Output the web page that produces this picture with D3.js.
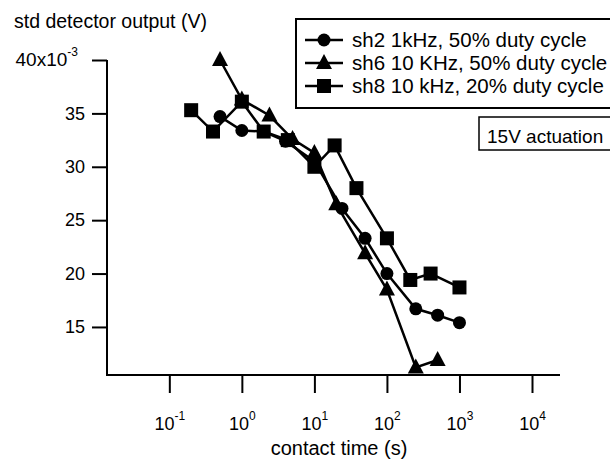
<!DOCTYPE html>
<html>
<head>
<meta charset="utf-8">
<script src="https://cdn.jsdelivr.net/npm/d3@7"></script>
<style>
  body { margin: 0; background: #fff; }
  svg { font-family: "Liberation Sans", Arial, sans-serif; }
</style>
</head>
<body>
<svg id="chart" width="610" height="463"></svg>
<script>
// contact time (s) and std detector output (x10^-3 V)
var sh2Time = [0.5, 1, 2, 4, 10, 24, 50, 100, 250, 500, 1000];
var sh2Std  = [34.7, 33.4, 33.3, 32.4, 30.5, 26.1, 23.3, 20.0, 16.7, 16.1, 15.4];

var sh6Time = [0.5, 1, 2.4, 5, 10, 20, 50, 100, 250, 500];
var sh6Std  = [40.0, 36.3, 34.8, 32.6, 31.3, 26.5, 21.9, 18.5, 11.2, 11.9];

var sh8Time = [0.2, 0.4, 1, 2, 4.3, 10, 19, 38, 100, 210, 400, 1000];
var sh8Std  = [35.3, 33.3, 36.1, 33.3, 32.5, 30.0, 32.0, 28.0, 23.3, 19.4, 20.0, 18.7];

var seriesNames = ["sh2 1kHz, 50% duty cycle", "sh6 10 KHz, 50% duty cycle", "sh8 10 kHz, 20% duty cycle"];
var markers = ["circle", "triangle", "square"];

var xTicks = [0.1, 1, 10, 100, 1000, 10000];
var xExps = ["-1", "0", "1", "2", "3", "4"];
var yTicks = [15, 20, 25, 30, 35, 40];

var series = [
  {name: seriesNames[0], marker: markers[0], pts: sh2Time.map(function(t, i){ return [t, sh2Std[i]]; })},
  {name: seriesNames[1], marker: markers[1], pts: sh6Time.map(function(t, i){ return [t, sh6Std[i]]; })},
  {name: seriesNames[2], marker: markers[2], pts: sh8Time.map(function(t, i){ return [t, sh8Std[i]]; })}
];

var svg = d3.select('#chart');

var x = d3.scaleLog().domain([Math.pow(10, -1.873), Math.pow(10, 4.386)]).range([106, 560]);
var y = d3.scaleLinear().domain([10.5, 40]).range([375, 60]);

function drawMarker(g, type) {
  if (type == "circle") {
    g.append('circle').attr('r', 6.5);
  } else if (type == "square") {
    g.append('rect').attr('x', -7).attr('y', -7).attr('width', 14).attr('height', 14);
  } else {
    g.append('path').attr('d', 'M0,-9L8,6L-8,6Z');
  }
}

// axes
var xAxis = svg.append('g').attr('class', 'x axis')
  .attr('transform', 'translate(0,375)')
  .call(d3.axisBottom(x).tickValues(xTicks).tickSize(18).tickFormat(''));
xAxis.select('.domain').attr('d', 'M106,0H560');

xAxis.selectAll('.tick').each(function(d, i) {
  var t = d3.select(this).append('text')
    .attr('y', 55).attr('x', 0)
    .attr('fill', '#000')
    .style('font-size', '18px')
    .attr('text-anchor', 'middle');
  t.append('tspan').text('10');
  t.append('tspan').attr('dy', -10).style('font-size', '12px').text(xExps[i]);
});

var yAxis = svg.append('g').attr('class', 'y axis')
  .attr('transform', 'translate(107,0)')
  .call(d3.axisLeft(y).tickValues(yTicks).tickSize(15).tickPadding(7)
    .tickFormat(function(d){ return d == 40 ? '' : d; }));
yAxis.select('.domain').attr('d', 'M0,60V375');
yAxis.selectAll('text').style('font-size', '18px').attr('fill', '#000');

var topLabel = yAxis.append('text')
  .attr('x', -29).attr('y', y(40)).attr('dy', '0.32em')
  .attr('text-anchor', 'end').attr('fill', '#000')
  .style('font-size', '19px');
topLabel.append('tspan').text('40x10');
topLabel.append('tspan').attr('dy', -10).style('font-size', '12px').text('-3');

svg.selectAll('.axis path, .axis line').attr('stroke', '#000').attr('stroke-width', 2);

svg.append('text').attr('x', 14).attr('y', 28).style('font-size', '19.5px')
  .text('std detector output (V)');
svg.append('text').attr('x', 339).attr('y', 455).attr('text-anchor', 'middle')
  .style('font-size', '20px').text('contact time (s)');

// data
var line = d3.line().x(function(d){ return x(d[0]); }).y(function(d){ return y(d[1]); });

series.forEach(function(s) {
  svg.append('path').datum(s.pts)
    .attr('d', line)
    .attr('fill', 'none').attr('stroke', '#000').attr('stroke-width', 2.5);
  svg.append('g').selectAll('g').data(s.pts).enter().append('g')
    .attr('transform', function(d){ return 'translate(' + x(d[0]) + ',' + y(d[1]) + ')'; })
    .each(function(){ drawMarker(d3.select(this), s.marker); });
});

// legend
var lg = svg.append('g');
lg.append('rect').attr('x', 296).attr('y', 19).attr('width', 330).attr('height', 89)
  .attr('fill', '#fff').attr('stroke', '#000').attr('stroke-width', 2);
series.forEach(function(s, i) {
  var row = lg.append('g').attr('transform', 'translate(0,' + (40 + i * 23) + ')');
  row.append('line').attr('x1', 305).attr('x2', 343).attr('stroke', '#000').attr('stroke-width', 2.5);
  var m = row.append('g').attr('transform', 'translate(324,0)');
  drawMarker(m, s.marker);
  row.append('text').attr('x', 352).attr('dy', '0.35em').style('font-size', '20.5px').text(s.name);
});

svg.append('rect').attr('x', 479).attr('y', 117).attr('width', 150).attr('height', 33)
  .attr('fill', '#fff').attr('stroke', '#000').attr('stroke-width', 1.5);
svg.append('text').attr('x', 487).attr('y', 143).style('font-size', '19px').text('15V actuation');
</script>
</body>
</html>
